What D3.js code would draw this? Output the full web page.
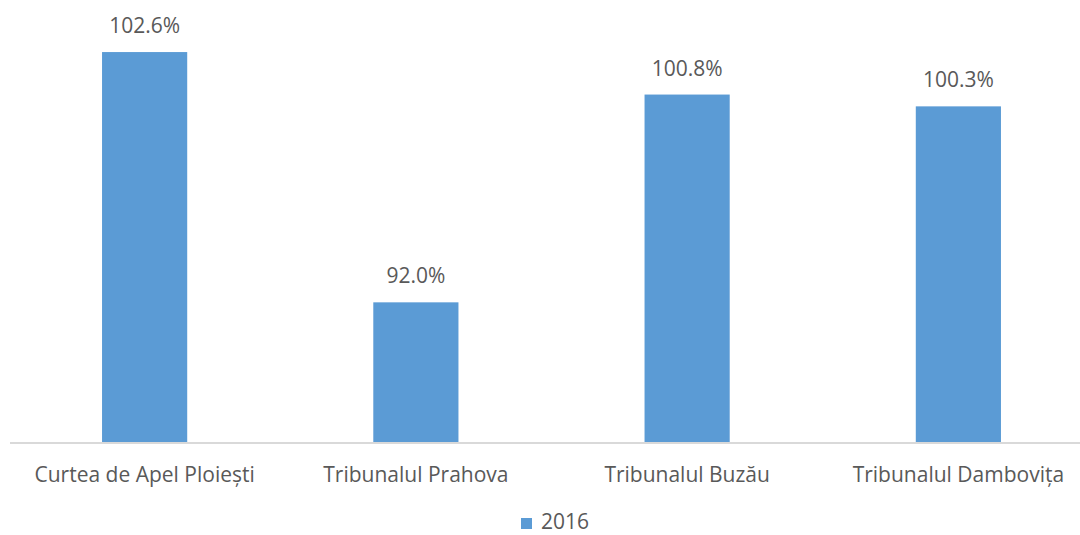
<!DOCTYPE html>
<html>
<head>
<meta charset="utf-8">
<script src="https://cdn.jsdelivr.net/npm/d3@7"></script>
<style>
  body { margin: 0; background: #fff; }
  text { font-family: 'Open Sans', sans-serif; fill: #595959; }
</style>
</head>
<body>
<div id="chart"></div>
<script>
const categories = ['Curtea de Apel Ploiești', 'Tribunalul Prahova', 'Tribunalul Buzău', 'Tribunalul Dambovița']
const values2016 = [102.6, 92.0, 100.8, 100.3]
const seriesName = '2016'

const width = 1080
const height = 535
const baseY = 442

const svg = d3.select('#chart').append('svg')
  .attr('width', width)
  .attr('height', height)

const x = d3.scaleBand()
  .domain(categories)
  .range([9, 1094])
  .paddingInner(0.686)
  .paddingOuter(0.343)

const y = d3.scaleLinear()
  .domain([86, 104])
  .range([444, 19])

// bars
svg.selectAll('rect.bar')
  .data(values2016)
  .enter()
  .append('rect')
  .attr('class', 'bar')
  .attr('x', (d, i) => x(categories[i]))
  .attr('y', d => y(d))
  .attr('width', x.bandwidth())
  .attr('height', d => baseY - y(d))
  .attr('fill', '#5b9bd5')

// value labels
svg.selectAll('text.val')
  .data(values2016)
  .enter()
  .append('text')
  .attr('class', 'val')
  .attr('x', (d, i) => x(categories[i]) + x.bandwidth() / 2)
  .attr('y', d => y(d) - 19)
  .attr('text-anchor', 'middle')
  .style('font-size', '21px')
  .text(d => d.toFixed(1) + '%')

// x axis
const xAxis = svg.append('g')
  .attr('transform', 'translate(0,' + baseY + ')')
  .call(d3.axisBottom(x).tickSize(0).tickPadding(25))
xAxis.select('.domain').attr('d', 'M10,1H' + width).attr('stroke', '#d9d9d9').attr('stroke-width', 2)
xAxis.selectAll('.tick text')
  .style('font-size', '21px')
  .attr('fill', '#595959')
  .attr('dy', '0.71em')

// legend
const legend = svg.append('g').attr('transform', 'translate(521,518)')
legend.append('rect').attr('width', 11).attr('height', 11).attr('fill', '#5b9bd5')
legend.append('text')
  .attr('x', 20)
  .attr('y', 11)
  .style('font-size', '21px')
  .text(seriesName)
</script>
</body>
</html>
